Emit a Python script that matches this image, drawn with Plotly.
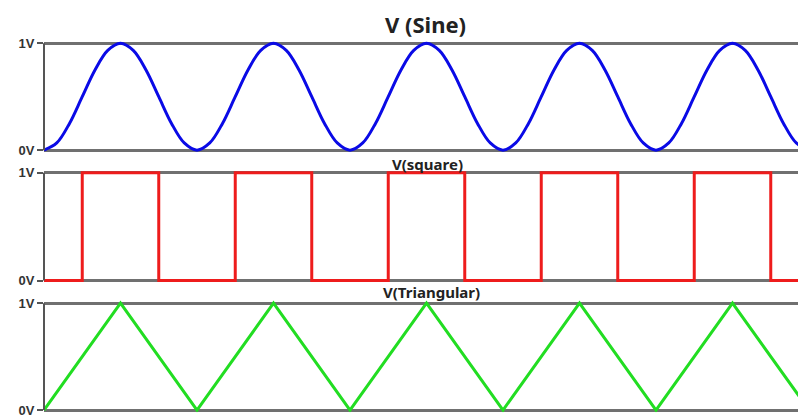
import plotly.graph_objects as go

# ---- data (time in periods, voltage in V) ----
sine_cycle = [0.0, 0.067, 0.25, 0.5, 0.75, 0.933, 1.0, 0.933, 0.75, 0.5, 0.25, 0.067]
sine_v = sine_cycle * 5 + [0.0]
sine_t = [k / 12 for k in range(len(sine_v))]

square_t = [0, 0.25, 0.75, 1.25, 1.75, 2.25, 2.75, 3.25, 3.75, 4.25, 4.75, 5.0]
square_v = [0, 1, 0, 1, 0, 1, 0, 1, 0, 1, 0, 0]

tri_t = [0, 0.5, 1.0, 1.5, 2.0, 2.5, 3.0, 3.5, 4.0, 4.5, 5.0]
tri_v = [0, 1, 0, 1, 0, 1, 0, 1, 0, 1, 0]

tick_vals = [0, 1]
tick_text = ["0V", "1V"]
titles = ["V (Sine)", "V(square)", "V(Triangular)"]

# ---- layout constants ----
W, H = 798, 418
L = 44
X_END = (W - L) / 153.0  # visible time span in periods

# (px of 1V line, px of 0V line, bottom pad, top pad)
panels = [(41, 150, 0.04, 0.04), (173, 283, 0.04, 0.04), (306, 415, 0.02, 0.04)]

fig = go.Figure()
fig.add_trace(go.Scatter(x=sine_t, y=sine_v, mode="lines", line=dict(color="#0a0ae6", width=3, shape="spline"),
                         xaxis="x", yaxis="y", showlegend=False))
fig.add_trace(go.Scatter(x=square_t, y=square_v, mode="lines", line=dict(color="#ee1c1c", width=3, shape="hv"),
                         xaxis="x2", yaxis="y2", showlegend=False))
fig.add_trace(go.Scatter(x=tri_t, y=tri_v, mode="lines", line=dict(color="#22dd22", width=3),
                         xaxis="x3", yaxis="y3", showlegend=False))

layout = dict(width=W, height=H, margin=dict(l=L, r=0, t=0, b=0, pad=0),
              paper_bgcolor="white", plot_bgcolor="white", showlegend=False)
shapes = []
for i, (top_px, bot_px, pb, pt) in enumerate(panels):
    unit = bot_px - top_px
    d0 = 1 - (bot_px + pb * unit) / H
    d1 = 1 - (top_px - pt * unit) / H
    sfx = "" if i == 0 else str(i + 1)
    layout["xaxis" + sfx] = dict(domain=[0, 1], range=[0, X_END], anchor="y" + sfx, visible=False)
    layout["yaxis" + sfx] = dict(domain=[max(d0, 0), d1], range=[-pb, 1 + pt], anchor="x" + sfx,
                                 tickvals=tick_vals, ticktext=["<b>%s</b>" % t for t in tick_text],
                                 ticks="outside", ticklen=6, tickwidth=2, tickcolor="#555555",
                                 tickfont=dict(family="Liberation Sans", size=13, color="#333333"),
                                 ticklabeloverflow="allow",
                                 showgrid=True, gridcolor="#707070", gridwidth=2.5,
                                 zeroline=False, showline=False, fixedrange=True)
    shapes.append(dict(type="line", xref="x%s domain" % sfx if sfx else "x domain", yref="y" + sfx,
                       x0=0, x1=0, y0=0, y1=1, line=dict(color="#555555", width=2)))
layout["shapes"] = shapes
layout["annotations"] = [
    dict(text="<b>%s</b>" % titles[0], x=426, y=21, showarrow=False,
         font=dict(family="Noto Sans", size=22, color="#222222")),
    dict(text="<b>%s</b>" % titles[1], x=427, y=164, showarrow=False,
         font=dict(family="Noto Sans", size=15, color="#222222")),
    dict(text="<b>%s</b>" % titles[2], x=431, y=295, showarrow=False,
         font=dict(family="Noto Sans", size=15, color="#222222")),
]
# convert annotation pixel positions to paper coords
for a in layout["annotations"]:
    a["x"] = (a["x"] - L) / (W - L)
    a["y"] = 1 - a["y"] / H
    a["xref"] = "paper"
    a["yref"] = "paper"
    a["xanchor"] = "center"
    a["yanchor"] = "middle"

fig.update_layout(**layout)
fig.write_html("out.html", config={"displayModeBar": False},
               post_script="document.body.style.margin='0';document.body.style.overflow='hidden';")
